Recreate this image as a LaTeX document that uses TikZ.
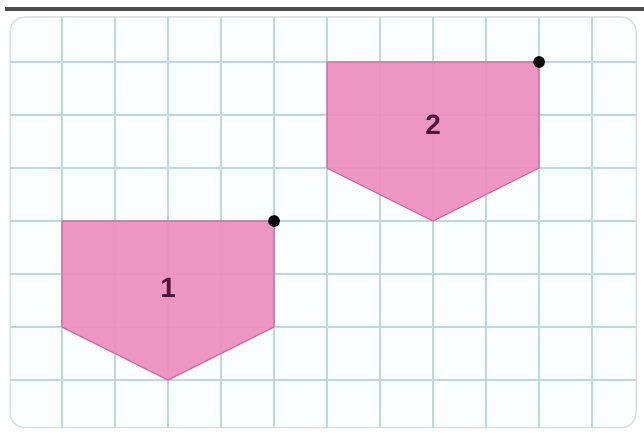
\documentclass[tikz,border=0pt]{standalone}
\usepackage{fontspec}
\setsansfont{Liberation Sans}
\usepackage{xcolor}
\usetikzlibrary{calc}

\definecolor{gridblue}{RGB}{188,216,224}
\definecolor{framegray}{RGB}{216,226,228}
\definecolor{paper}{RGB}{250,254,254}
\definecolor{shapepink}{RGB}{238,142,190}
\definecolor{edgepink}{RGB}{200,104,156}
\definecolor{numpurple}{RGB}{80,20,60}

\tikzset{
  gridline/.style={draw=gridblue, line width=1.1pt},
  figshape/.style={fill=shapepink, draw=edgepink, line width=0.6pt, line join=round},
  figlabel/.style={font=\sffamily\bfseries\fontsize{15}{18}\selectfont, text=numpurple},
  marker/.style={fill=black}
}

\begin{document}
\begin{tikzpicture}[x=1cm, y=-1cm]
\useasboundingbox (-1.17,-1.17) rectangle (10.98,7.06);
% frame
\draw[black!70, line width=1.8pt] (-1.08,-1.0) -- (10.98,-1.0);
\draw[framegray, fill=paper, line width=0.8pt, rounded corners=8pt] (-0.98,-0.85) rectangle (10.83,6.9);
\begin{scope}
\clip[rounded corners=8pt] (-0.98,-0.85) rectangle (10.83,6.9);
\foreach \i in {0,...,10} {
    \draw[gridline] (\i,-0.85) -- (\i,6.9);
}
\foreach \j in {0,...,6} {
    \draw[gridline] (-0.98,\j) -- (10.83,\j);
}
\end{scope}

% Figure 1
\begin{scope}[shift={(0,3)}]
\draw[figshape, fill opacity=0.92] (0,0) -- (4,0) -- (4,2) -- (2,3) -- (0,2) -- cycle;
\node[figlabel] (lab1) at (2,1.26) {1};
\coordinate (dot1) at (4,0);
\fill[marker] (dot1) circle (0.11);
\end{scope}

% Figure 2
\begin{scope}[shift={(5,0)}]
\draw[figshape, fill opacity=0.92] (0,0) -- (4,0) -- (4,2) -- (2,3) -- (0,2) -- cycle;
\node[figlabel] (lab2) at (2,1.19) {2};
\coordinate (dot2) at (4,0);
\fill[marker] (dot2) circle (0.11);
\end{scope}
\end{tikzpicture}
\end{document}
